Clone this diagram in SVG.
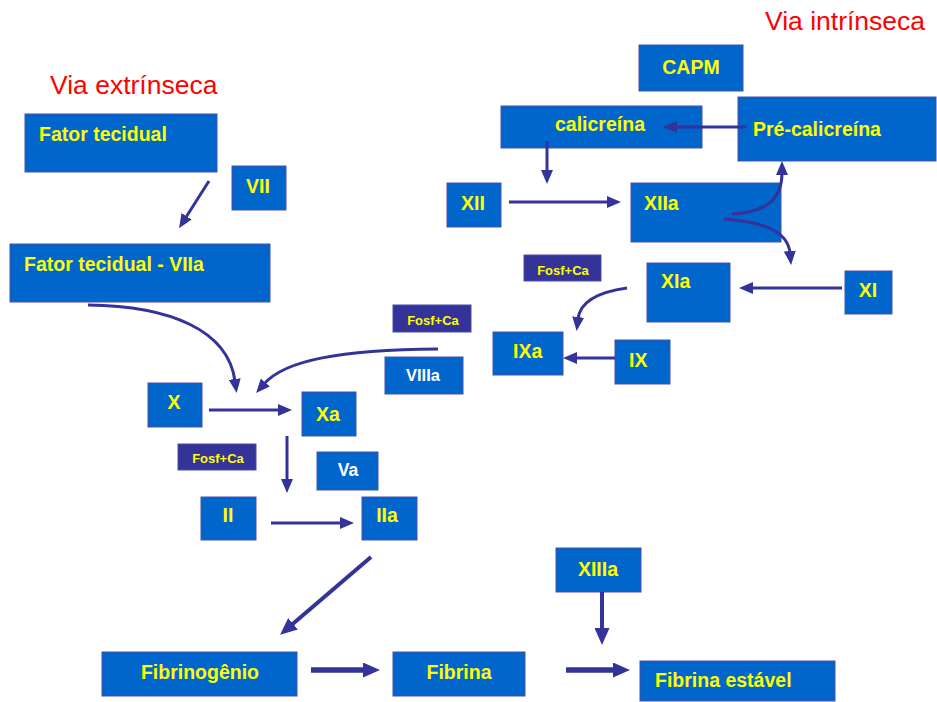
<svg xmlns="http://www.w3.org/2000/svg" width="937" height="702" viewBox="0 0 937 702">
<style>
.b{fill:#0066cc;stroke:#4a4ea8;stroke-width:1}
.d{fill:#333399;stroke:#4a4ea8;stroke-width:1}
.t{font-family:"Liberation Sans",Arial,sans-serif;font-weight:bold;font-size:19.5px;fill:#ffff00}
.c{text-anchor:middle}
.w{fill:#ffffff}
.s{font-size:13px}
.ti{font-family:"Liberation Sans",Arial,sans-serif;font-size:26.5px;fill:#ff0000}
.a{fill:none;stroke:#333399;stroke-width:3;marker-end:url(#ah)}
.a2{fill:none;stroke:#333399;stroke-width:4;marker-end:url(#ah2)}
.a3{fill:none;stroke:#333399;stroke-width:5.5;marker-end:url(#ah2)}
</style>
<defs>
<marker id="ah" markerUnits="userSpaceOnUse" markerWidth="14" markerHeight="12" viewBox="0 0 14 12" refX="2" refY="6" orient="auto">
<path d="M0,0 L14,6 L0,12 z" fill="#333399"/>
</marker>
<marker id="ah2" markerUnits="userSpaceOnUse" markerWidth="17" markerHeight="15" viewBox="0 0 17 15" refX="2" refY="7.5" orient="auto">
<path d="M0,0 L17,7.5 L0,15 z" fill="#333399"/>
</marker>
</defs>
<rect width="937" height="702" fill="#ffffff"/>
<text class="ti" x="50" y="94">Via extrínseca</text>
<text class="ti" x="765" y="30">Via intrínseca</text>

<g id="fator-tecidual"><rect class="b" x="25" y="114" width="192" height="58"/><text class="t" x="39" y="141">Fator tecidual</text></g>
<g id="vii"><rect class="b" x="232" y="166" width="54" height="44"/><text class="t c" x="258" y="193">VII</text></g>
<g id="fator-tecidual-viia"><rect class="b" x="10" y="244" width="260" height="58"/><text class="t" x="24" y="271">Fator tecidual - VIIa</text></g>
<g id="capm"><rect class="b" x="639" y="45" width="104" height="46"/><text class="t c" x="691" y="74">CAPM</text></g>
<g id="calicreina"><rect class="b" x="501" y="106" width="201" height="42"/><text class="t" x="555" y="131">calicreína</text></g>
<g id="pre-calicreina"><rect class="b" x="738" y="97" width="198" height="64"/><text class="t" x="753" y="136">Pré-calicreína</text></g>
<g id="xii"><rect class="b" x="447" y="183" width="54" height="44"/><text class="t c" x="473" y="210">XII</text></g>
<g id="xiia"><rect class="b" x="631" y="183" width="150" height="59"/><text class="t" x="644" y="210">XIIa</text></g>
<g id="fosf-ca-1"><rect class="d" x="524" y="255" width="77" height="26"/><text class="t c s" x="563" y="275">Fosf+Ca</text></g>
<g id="xia"><rect class="b" x="647" y="263" width="83" height="59"/><text class="t" x="661" y="288">XIa</text></g>
<g id="xi"><rect class="b" x="845" y="271" width="47" height="43"/><text class="t c" x="868" y="297">XI</text></g>
<g id="fosf-ca-2"><rect class="d" x="393" y="305" width="78" height="27"/><text class="t c s" x="433" y="325">Fosf+Ca</text></g>
<g id="ixa"><rect class="b" x="493" y="332" width="70" height="43"/><text class="t" x="513" y="358">IXa</text></g>
<g id="ix"><rect class="b" x="615" y="340" width="55" height="44"/><text class="t" x="629" y="367">IX</text></g>
<g id="viiia"><rect class="b" x="385" y="357" width="78" height="37"/><text class="t c w" x="423" y="381" style="font-size:16.5px">VIIIa</text></g>
<g id="x"><rect class="b" x="148" y="383" width="54" height="44"/><text class="t c" x="174" y="409">X</text></g>
<g id="xa"><rect class="b" x="302" y="392" width="54" height="44"/><text class="t c" x="328" y="421">Xa</text></g>
<g id="fosf-ca-3"><rect class="d" x="178" y="444" width="78" height="26"/><text class="t c s" x="218" y="463">Fosf+Ca</text></g>
<g id="va"><rect class="b" x="317" y="452" width="61" height="38"/><text class="t c w" x="348" y="476" style="font-size:17.5px">Va</text></g>
<g id="ii"><rect class="b" x="201" y="497" width="55" height="43"/><text class="t c" x="228" y="522">II</text></g>
<g id="iia"><rect class="b" x="362" y="497" width="55" height="43"/><text class="t c" x="387" y="522">IIa</text></g>
<g id="xiiia"><rect class="b" x="556" y="548" width="85" height="44"/><text class="t c" x="598" y="576">XIIIa</text></g>
<g id="fibrinogenio"><rect class="b" x="102" y="652" width="195" height="44"/><text class="t c" x="200" y="679">Fibrinogênio</text></g>
<g id="fibrina"><rect class="b" x="393" y="652" width="132" height="44"/><text class="t c" x="459" y="679">Fibrina</text></g>
<g id="fibrina-estavel"><rect class="b" x="640" y="661" width="195" height="40"/><text class="t" x="655" y="687">Fibrina estável</text></g>

<g id="connectors">
<path class="a" d="M209,181 L185.5,218"/>
<path class="a" d="M547,141 L547,172"/>
<path class="a" d="M746,127 L675,127"/>
<path class="a" d="M509,202 L609,202"/>
<path class="a" d="M732,214 C768,212 782,198 782,173"/>
<path class="a" d="M724,219 C765,222 788,232 790,253"/>
<path class="a" d="M842,288 L751,288"/>
<path class="a" d="M627,288 C598,292 580,302 578,319"/>
<path class="a" d="M615,358 L575,358"/>
<path class="a" d="M438,349 C340,350 285,360 264,384"/>
<path class="a" d="M88,305 C170,306 228,330 235,381"/>
<path class="a" d="M209,410 L280,410"/>
<path class="a" d="M287,436 L287,481"/>
<path class="a" d="M271,523 L342,523"/>
<path class="a2" d="M371,557 L291.5,625"/>
<path class="a2" d="M602,592 L602,630"/>
<path class="a3" d="M311,670 L365,670"/>
<path class="a3" d="M566,670 L615,670"/>
</g>
</svg>
